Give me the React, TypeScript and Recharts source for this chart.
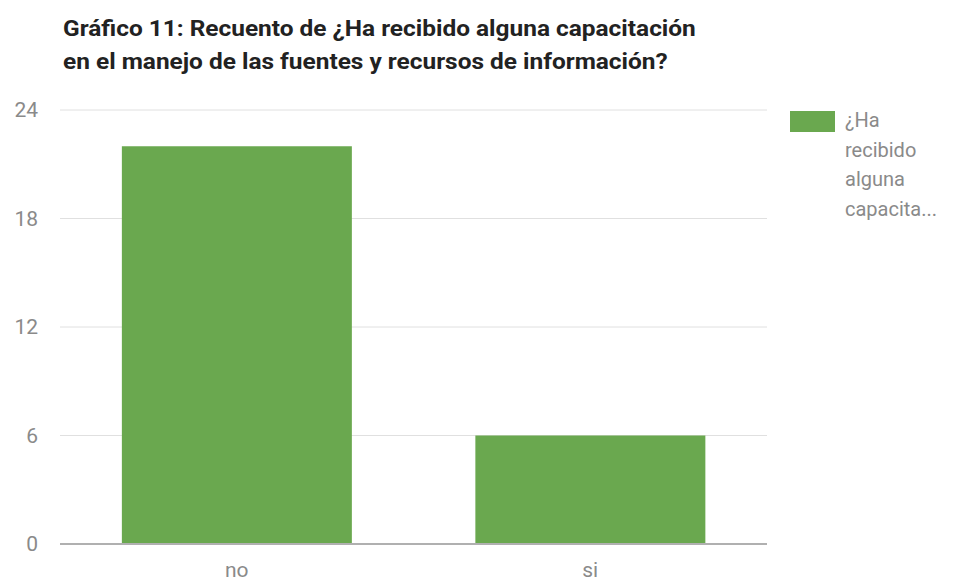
import React from "react";
import { BarChart, Bar, XAxis, YAxis, CartesianGrid, Legend } from "recharts";

const categories = ["no", "si"];
const counts = [22, 6];
const yTicks = [0, 6, 12, 18, 24];
const seriesName = "¿Ha recibido alguna capacitación en el manejo de las fuentes y recursos de información?";
const legendLines = ["¿Ha", "recibido", "alguna", "capacita..."];
const titleLines = [
  "Gráfico 11: Recuento de ¿Ha recibido alguna capacitación",
  "en el manejo de las fuentes y recursos de información?",
];

const data = categories.map((c, i) => ({ name: c, value: counts[i] }));

const GREEN = "#6aa84f";
const FONT = "Roboto, 'Noto Sans', sans-serif";

const LegendContent = () => (
  <div style={{ display: "flex", alignItems: "flex-start", fontFamily: FONT }}>
    <div style={{ width: 45, height: 21, background: GREEN, marginTop: 1, flex: "none" }} />
    <div style={{ marginLeft: 10, color: "#8a8a8a", fontSize: 20, lineHeight: "29.5px", marginTop: -4, textAlign: "left" }}>
      {legendLines.map((l) => (
        <div key={l}>{l}</div>
      ))}
    </div>
  </div>
);

export default function App() {
  return (
    <div style={{ position: "absolute", left: 0, top: 0, width: 955, height: 581, background: "#fff" }}>
      <div
        style={{
          position: "absolute",
          left: 63,
          top: 12,
          fontFamily: FONT,
          fontWeight: 700,
          fontSize: 22,
          lineHeight: "33px",
          color: "#222",
          whiteSpace: "nowrap",
          transform: "scaleX(1.11)",
          transformOrigin: "left top",
        }}
      >
        {titleLines.map((t) => (
          <div key={t}>{t}</div>
        ))}
      </div>
      <BarChart
        width={955}
        height={581}
        data={data}
        margin={{ top: 110, right: 188, bottom: 0, left: 0 }}
        barCategoryGap="17.5%"
      >
        <CartesianGrid vertical={false} stroke="#e0e0e0" strokeWidth={1} />
        <XAxis
          dataKey="name"
          height={37}
          axisLine={{ stroke: "#b0b0b0", strokeWidth: 2 }}
          tickLine={false}
          tickSize={0}
          tickMargin={18}
          tick={{ fill: "#8a8a8a", fontSize: 21, fontFamily: FONT }}
        />
        <YAxis
          width={60}
          domain={[0, 24]}
          ticks={yTicks}
          axisLine={false}
          tickLine={false}
          tickSize={0}
          tickMargin={22}
          tick={{ fill: "#8a8a8a", fontSize: 21, fontFamily: FONT }}
        />
        <Legend
          layout="horizontal"
          align="center"
          verticalAlign="middle"
          content={<LegendContent />}
          wrapperStyle={{ position: "absolute", left: 790, top: 110, width: 160, height: 130 }}
        />
        <Bar dataKey="value" name={seriesName} fill={GREEN} isAnimationActive={false} />
      </BarChart>
    </div>
  );
}
